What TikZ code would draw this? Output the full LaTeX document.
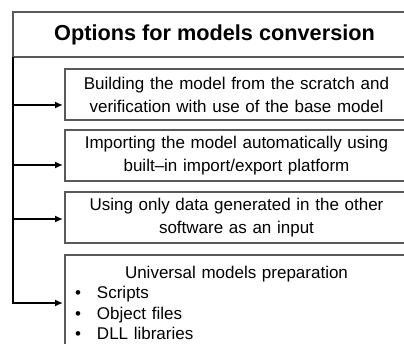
\documentclass[tikz,border=0pt]{standalone}
\usepackage{fontspec}
\setmainfont{Liberation Sans}
\usetikzlibrary{arrows.meta,positioning}
\tikzset{
	headbox/.style={
		draw=black!65, line width=1.6pt, rectangle,
		minimum width=403pt, minimum height=45pt,
		inner sep=0pt, outer sep=0pt, anchor=north west,
		font=\fontsize{21.7}{25}\selectfont\bfseries
	},
	optbox/.style={
		draw=black!65, line width=1.6pt, rectangle,
		minimum width=343pt, minimum height=51pt,
		inner sep=0pt, outer sep=0pt, text width=330pt, align=center,
		font=\fontsize{17}{23}\selectfont
	},
	feed/.style={-{Latex[length=8pt,width=7pt]}, line width=1.5pt, shorten >=2pt}
}

\begin{document}
\begin{tikzpicture}[x=1pt,y=1pt]
	\useasboundingbox (0,0) rectangle (404,-344);
	\clip (0,0) rectangle (404,-344);
	\node[headbox] (head) at (13,-12) {Options for models conversion};
	\node[optbox, anchor=north west] (build) at (65,-69) {Building the model from the scratch and\\verification with use of the base model};
	\node[optbox] (import) [below=10pt of build] {Importing the model automatically using\\built--in import/export platform};
	\node[optbox] (data) [below=11pt of import] {Using only data generated in the other\\software as an input};
	\node[optbox, minimum height=0pt, inner ysep=11pt, text width=323pt, align=left,
		font=\fontsize{17}{20.5}\selectfont] (univ) [below=12pt of data]
		{\makebox[\linewidth]{Universal models preparation}\\
		 \makebox[22pt][l]{\textbullet}Scripts\\
		 \makebox[22pt][l]{\textbullet}Object files\\
		 \makebox[22pt][l]{\textbullet}DLL libraries\\[8pt]
		 \mbox{}};
	% branches from the left trunk
	\draw[feed] (head.south west) |- ([yshift=-10.5pt]build.west);
	\draw[feed] (head.south west) |- ([yshift=-9.5pt]import.west);
	\draw[feed] (head.south west) |- ([yshift=-1.5pt]data.west);
	\draw[feed] (head.south west) |- (univ.north west |- 0,-303);
\end{tikzpicture}
\end{document}
